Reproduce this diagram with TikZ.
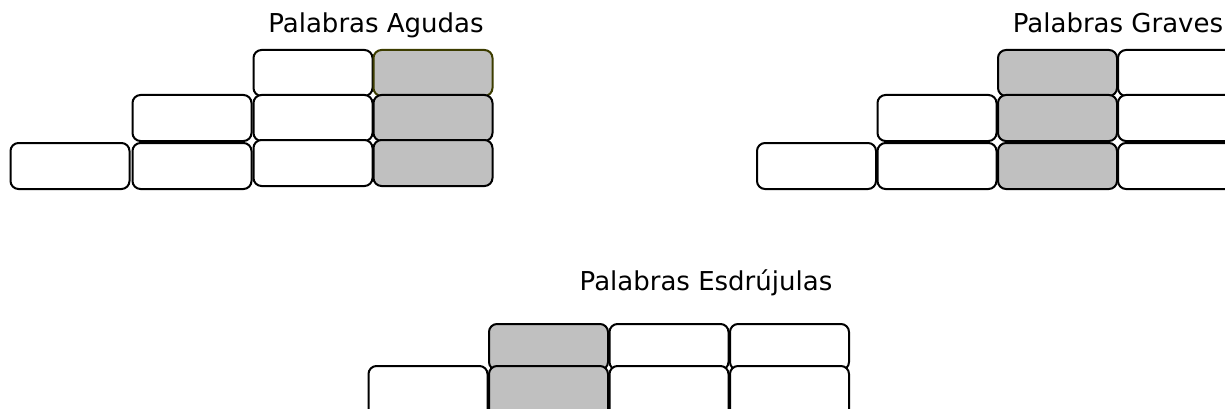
\documentclass[tikz,border=0pt]{standalone}
\usepackage{fontspec}
\setmainfont{DejaVu Sans}
\usepackage{tikz}
\usetikzlibrary{positioning}
\definecolor{tonicafill}{RGB}{192,192,192}
\definecolor{tonicaolive}{RGB}{60,60,0}
\tikzset{
  silaba/.style={
    draw=black,fill=white,rounded corners=8pt,line width=2pt,
    minimum width=119pt,minimum height=46pt,inner sep=0pt,
  },
  tonica/.style={silaba,fill=tonicafill},
  titulo/.style={anchor=base,inner sep=0pt,font=\fontsize{26}{30}\selectfont},
}

\begin{document}
\begin{tikzpicture}[x=1pt,y=-1pt]
    \useasboundingbox (0,0) rectangle (1225,409);
    % titles
    \node [titulo] (tag) at (376,33) {Palabras Agudas};
    \node [titulo] (tgr) at (1118,33) {Palabras Graves};
    \node [titulo] (tes) at (706,290) {Palabras Esdrújulas};
    % agudas
    \node [silaba] (a13) at (313,73) {};
    \node [tonica,draw=tonicaolive] (a14) at (433,73) {};
    \node [silaba] (a22) at (192,118) {};
    \node [silaba] (a23) at (313,118) {};
    \node [tonica] (a24) at (433,118) {};
    \node [silaba] (a31) at (70,166) {};
    \node [silaba] (a32) at (192,166) {};
    \node [silaba] (a33) at (313,163) {};
    \node [tonica] (a34) at (433,163) {};
    % graves
    \node [tonica] (g13) at (1057.5,73) {};
    \node [silaba] (g14) at (1177.5,73) {};
    \node [silaba] (g22) at (937,118) {};
    \node [tonica] (g23) at (1057.5,118) {};
    \node [silaba] (g24) at (1177.5,118) {};
    \node [silaba] (g31) at (816.5,166) {};
    \node [silaba] (g32) at (937,166) {};
    \node [tonica] (g33) at (1057.5,166) {};
    \node [silaba] (g34) at (1177.5,166) {};
    % esdrujulas
    \node [tonica] (e12) at (548.5,347) {};
    \node [silaba] (e13) at (669,347) {};
    \node [silaba] (e14) at (789.5,347) {};
    \node [silaba,minimum height=54pt] (e21) at (428,393) {};
    \node [tonica,minimum height=54pt] (e22) at (548.5,393) {};
    \node [silaba,minimum height=54pt] (e23) at (669,393) {};
    \node [silaba,minimum height=54pt] (e24) at (789.5,393) {};
\end{tikzpicture}
\end{document}
